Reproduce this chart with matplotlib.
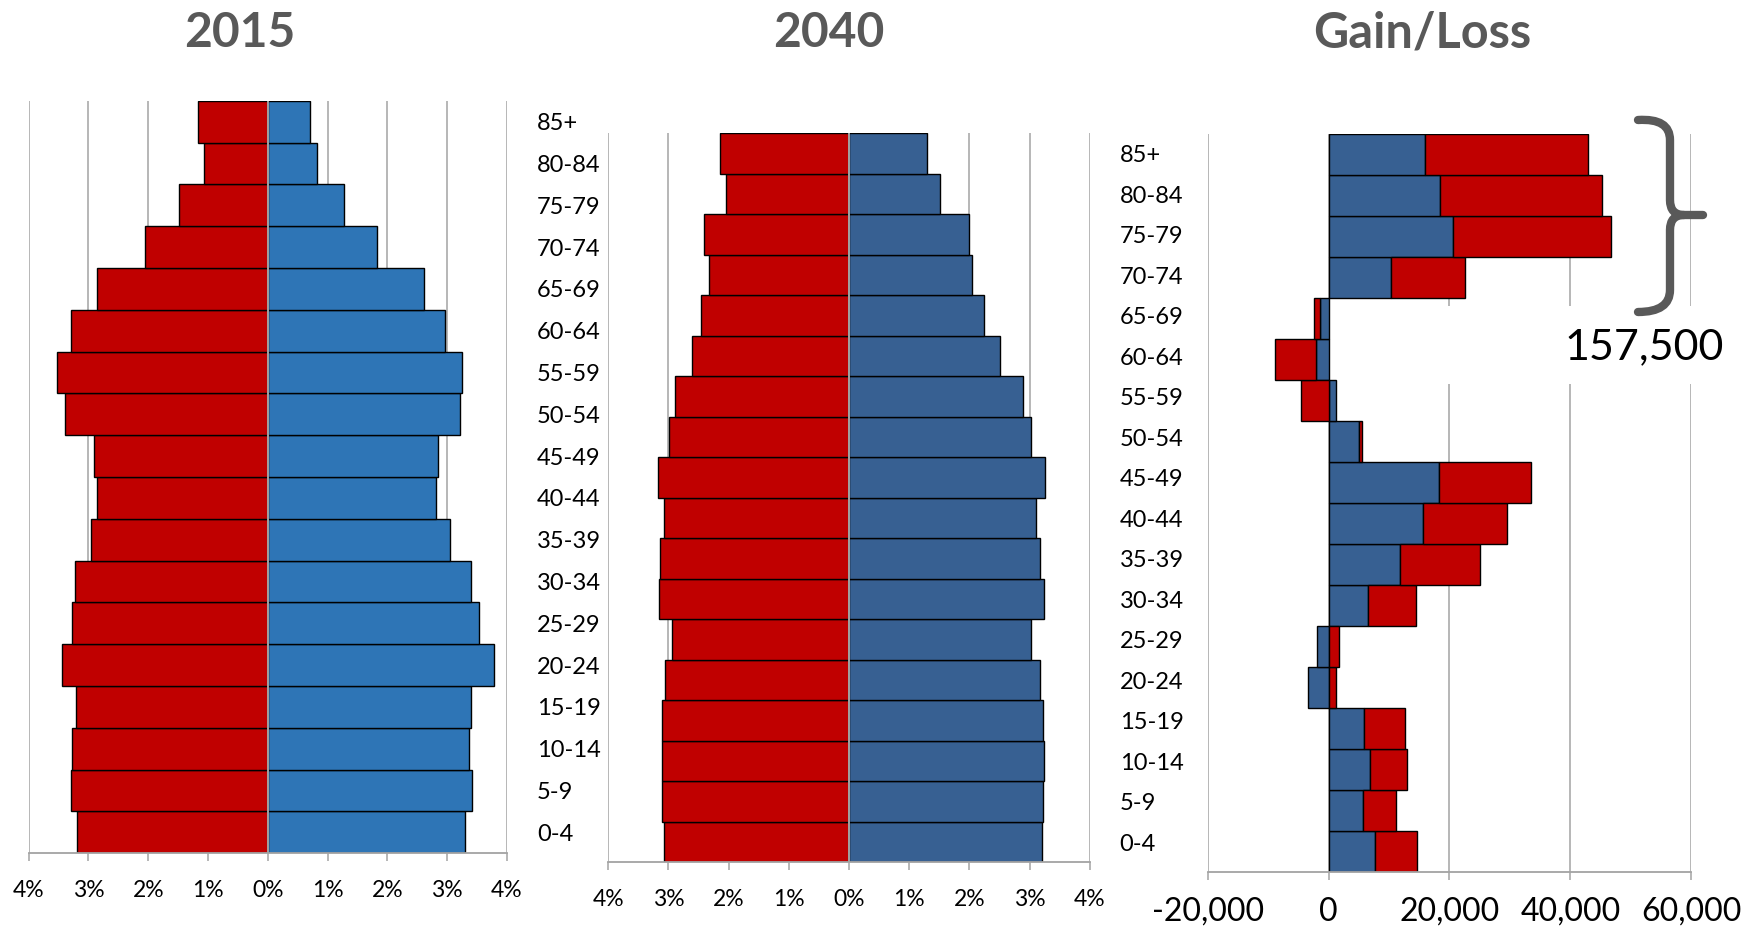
import numpy as np
import matplotlib.pyplot as plt
from matplotlib.patches import Rectangle, PathPatch
from matplotlib.path import Path

plt.rcParams['font.family'] = ['Lato', 'DejaVu Sans']

# age groups, youngest first (drawn bottom to top)
ages = ['0-4', '5-9', '10-14', '15-19', '20-24', '25-29', '30-34', '35-39',
        '40-44', '45-49', '50-54', '55-59', '60-64', '65-69', '70-74',
        '75-79', '80-84', '85+']

# share of total population, %
female_2015 = [3.19, 3.29, 3.27, 3.21, 3.44, 3.28, 3.22, 2.96, 2.86, 2.91,
               3.39, 3.52, 3.30, 2.85, 2.06, 1.49, 1.06, 1.17]
male_2015 = [3.29, 3.42, 3.37, 3.39, 3.78, 3.54, 3.39, 3.05, 2.82, 2.84,
             3.22, 3.24, 2.97, 2.62, 1.82, 1.27, 0.83, 0.70]
female_2040 = [3.08, 3.11, 3.11, 3.10, 3.05, 2.94, 3.15, 3.14, 3.08, 3.18,
               2.99, 2.89, 2.61, 2.45, 2.33, 2.41, 2.05, 2.15]
male_2040 = [3.21, 3.23, 3.24, 3.22, 3.17, 3.02, 3.24, 3.17, 3.11, 3.25,
             3.03, 2.90, 2.51, 2.24, 2.04, 1.99, 1.51, 1.29]

# change in persons 2015 -> 2040
gain_male = [7660, 5720, 6900, 5930, -3380, -1860, 6550, 11860, 15660, 18280,
             5030, 1240, -2140, -1380, 10400, 20600, 18500, 15900]
gain_female = [7030, 5520, 6140, 6690, 1170, 1790, 7860, 13240, 13790, 15240,
               550, -4480, -6690, -1030, 12200, 26200, 26700, 27000]

older_total = sum(gain_male[-4:]) + sum(gain_female[-4:])

RED = '#c00000'
BLUE_2015 = '#2e75b6'
BLUE = '#376092'
GRID = '#a3a3a3'
TITLE = '#595959'

W, H = 1754, 931
fig = plt.figure(figsize=(W / 100, H / 100), dpi=100)


def px_box(x0, y0, x1, y1):
    return [x0 / W, 1 - y1 / H, (x1 - x0) / W, (y1 - y0) / H]


def style_axis(ax, ticks, labels, labelsize, pad):
    ax.set_xticks(ticks)
    ax.set_xticklabels(labels)
    ax.xaxis.grid(True, color=GRID, linewidth=1.1)
    ax.set_axisbelow(True)
    for s in ['top', 'right', 'left']:
        ax.spines[s].set_visible(False)
    ax.spines['bottom'].set_color(GRID)
    ax.spines['bottom'].set_linewidth(1.3)
    ax.tick_params(axis='x', direction='out', length=6, width=1.1,
                   color=GRID, labelsize=labelsize, pad=pad)
    ax.set_ylim(-0.5, len(ages) - 0.5)
    ax.set_yticks(np.arange(len(ages)))
    ax.set_yticklabels(ages)


def pyramid(ax, left_vals, right_vals, right_color):
    y = np.arange(len(ages))
    ax.barh(y, -np.array(left_vals), height=1.0, color=RED,
            edgecolor='black', linewidth=1.0)
    ax.barh(y, right_vals, height=1.0, color=right_color,
            edgecolor='black', linewidth=1.0)
    ax.set_xlim(-4, 4)
    ticks = list(range(-4, 5))
    style_axis(ax, ticks, [f'{abs(t)}%' for t in ticks], 16.5, 13)
    ax.axvline(0, color=GRID, linewidth=1.4, zorder=3)
    # age labels sit to the right of each pyramid
    ax.tick_params(axis='y', left=False, right=False, labelleft=False,
                   labelright=True, labelsize=17, pad=18)
    for lab in ax.get_yticklabels(which='both'):
        lab.set_horizontalalignment('left')


ax1 = fig.add_axes(px_box(28.7, 100.7, 507.0, 853.3))
ax2 = fig.add_axes(px_box(608.2, 133.3, 1089.7, 862.3))
ax3 = fig.add_axes(px_box(1207.6, 134.3, 1691.3, 871.7))

pyramid(ax1, female_2015, male_2015, BLUE_2015)
pyramid(ax2, female_2040, male_2040, BLUE)

# gain/loss: positives and negatives stack on their own side of zero
gm = np.array(gain_male, dtype=float)
gf = np.array(gain_female, dtype=float)
y = np.arange(len(ages))
gf_left = np.where((gf >= 0) == (gm >= 0), gm, 0.0)
ax3.barh(y, gm, height=1.0, color=BLUE, edgecolor='black', linewidth=1.0)
ax3.barh(y, gf, left=gf_left, height=1.0, color=RED,
         edgecolor='black', linewidth=1.0)
ax3.set_xlim(-20000, 60000)
gticks = [-20000, 0, 20000, 40000, 60000]
style_axis(ax3, gticks, [f'{t:,}' for t in gticks], 23, 12)
ax3.tick_params(axis='y', left=False, right=False, labelleft=False)

# titles
for x, txt, size in [(239.5, '2015', 34.5), (829, '2040', 34.5),
                     (1422.5, 'Gain/Loss', 35)]:
    fig.text(x / W, 1 - 47 / H, txt, ha='center', va='baseline',
             fontsize=size, fontweight='bold', color=TITLE)

# brace over the 70+ groups with their combined gain
fig.patches.append(Rectangle((1440 / W, 1 - 384 / H), 305 / W, 78 / H,
                             transform=fig.transFigure, facecolor='white',
                             edgecolor='none', zorder=1))


def fpt(x, yy):
    return (x / W, 1 - yy / H)


upper = Path([fpt(1638, 120), fpt(1670, 118), fpt(1670, 140),
              fpt(1670, 200), fpt(1670, 215), fpt(1684, 215), fpt(1703, 215)],
             [Path.MOVETO, Path.CURVE3, Path.CURVE3, Path.LINETO,
              Path.CURVE3, Path.CURVE3, Path.LINETO])
lower = Path([fpt(1684, 215), fpt(1670, 215), fpt(1670, 230),
              fpt(1670, 290), fpt(1670, 312), fpt(1638, 312)],
             [Path.MOVETO, Path.CURVE3, Path.CURVE3, Path.LINETO,
              Path.CURVE3, Path.CURVE3])
for p in (upper, lower):
    fig.patches.append(PathPatch(p, transform=fig.transFigure, fill=False,
                                 edgecolor=TITLE, linewidth=6,
                                 capstyle='round', joinstyle='round', zorder=2))

fig.text(1644 / W, 1 - 347 / H, f'{older_total:,}', ha='center', va='center',
         fontsize=31, color='black', zorder=3)

fig.savefig('out.png', dpi=100)
